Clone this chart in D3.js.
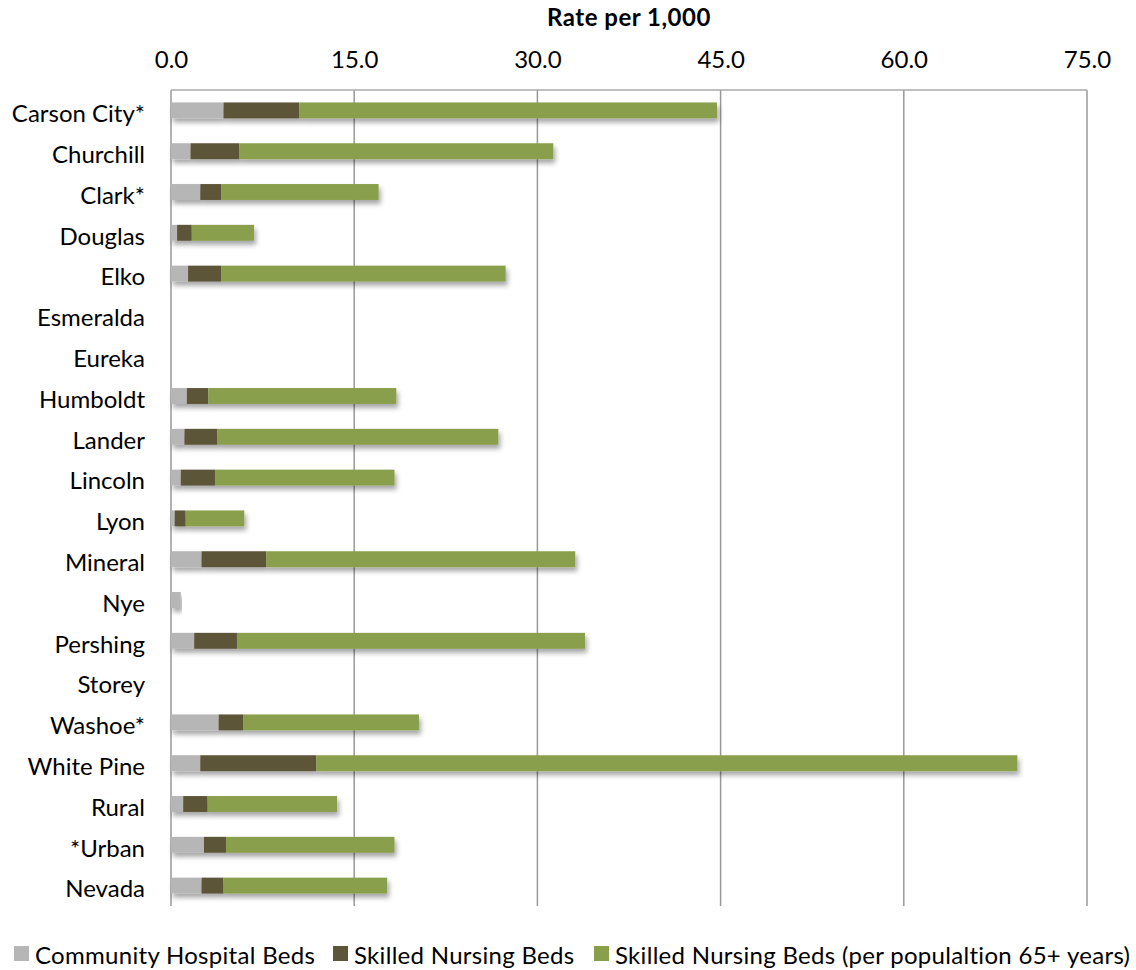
<!DOCTYPE html>
<html>
<head>
<meta charset="utf-8">
<script src="https://cdn.jsdelivr.net/npm/d3@7"></script>
<style>
  html, body { margin: 0; padding: 0; background: #fff; }
  svg { display: block; font-family: Lato, "Open Sans", sans-serif; }
</style>
</head>
<body>
<svg id="chart" width="1136" height="970"></svg>
<script>
const categories = ["Carson City*", "Churchill", "Clark*", "Douglas", "Elko", "Esmeralda", "Eureka",
  "Humboldt", "Lander", "Lincoln", "Lyon", "Mineral", "Nye", "Pershing", "Storey", "Washoe*",
  "White Pine", "Rural", "*Urban", "Nevada"];
const communityHospitalBeds = [4.3, 1.6, 2.4, 0.5, 1.4, 0, 0, 1.3, 1.1, 0.8, 0.3, 2.5, 0.8, 1.9, 0, 3.9, 2.4, 1.0, 2.7, 2.5];
const skilledNursingBeds =    [6.2, 4.0, 1.7, 1.2, 2.7, 0, 0, 1.75, 2.7, 2.8, 0.9, 5.3, 0, 3.5, 0, 2.0, 9.5, 2.0, 1.8, 1.8];
const skilledNursing65 =      [34.2, 25.7, 12.9, 5.1, 23.3, 0, 0, 15.4, 23.0, 14.7, 4.8, 25.3, 0, 28.5, 0, 14.4, 57.4, 10.6, 13.8, 13.4];
const seriesNames = ["Community Hospital Beds", "Skilled Nursing Beds", "Skilled Nursing Beds (per populaltion 65+ years)"];
const xTicks = [0, 15, 30, 45, 60, 75];
const axisTitle = "Rate per 1,000";

const colors = ["#b6b6b6", "#5c5539", "#8a9f4c"];

const svg = d3.select("#chart");
const mLeft = 171, mRight = 1087, mTop = 90, mBottom = 906;
const fs = 24;

const x = d3.scaleLinear().domain([0, 75]).range([mLeft, mRight]);
const y = d3.scaleBand().domain(categories).range([mTop, mBottom]).paddingInner(0.61).paddingOuter(0.305);

const defs = svg.append("defs");
const f = defs.append("filter").attr("id", "shadow").attr("x", "-5%").attr("y", "-50%").attr("width", "115%").attr("height", "250%");
f.append("feDropShadow").attr("dx", 2).attr("dy", 4).attr("stdDeviation", 2.5).attr("flood-color", "#000").attr("flood-opacity", 0.35);

// gridlines
svg.append("g").selectAll("line").data(xTicks).join("line")
  .attr("x1", d => x(d)).attr("x2", d => x(d))
  .attr("y1", mTop).attr("y2", mBottom)
  .attr("stroke", "#999").attr("stroke-width", 1.5);
svg.append("line").attr("x1", mLeft).attr("x2", mRight).attr("y1", mTop).attr("y2", mTop)
  .attr("stroke", "#aaa").attr("stroke-width", 1.5);

// stacked data
const rows = categories.map((c, i) => ({ cat: c, s0: communityHospitalBeds[i], s1: skilledNursingBeds[i], s2: skilledNursing65[i] }));
const stack = d3.stack().keys(["s0", "s1", "s2"])(rows);

const barsG = svg.append("g");
categories.forEach((c, i) => {
  const g = barsG.append("g").attr("filter", "url(#shadow)");
  stack.forEach((layer, k) => {
    const d = layer[i];
    if (d[1] - d[0] <= 0) return;
    g.append("rect")
      .attr("x", x(d[0])).attr("y", y(c))
      .attr("width", x(d[1]) - x(d[0])).attr("height", y.bandwidth())
      .attr("fill", colors[k]);
  });
});

// x axis (top)
const xAxis = d3.axisTop(x).tickValues(xTicks).tickFormat(d3.format(".1f")).tickSize(0).tickPadding(0);
const xg = svg.append("g").attr("transform", `translate(0,${mTop - 22})`).call(xAxis);
xg.select(".domain").remove();
xg.selectAll("text").attr("font-size", fs).attr("fill", "#000").attr("font-family", "Lato, sans-serif");

svg.append("text").attr("x", (mLeft + mRight) / 2).attr("y", 26).attr("text-anchor", "middle")
  .attr("font-size", 24).attr("font-weight", "bold").attr("letter-spacing", 0.5).text(axisTitle);

// y axis
const yAxis = d3.axisLeft(y).tickSize(0).tickPadding(26);
const yg = svg.append("g").attr("transform", `translate(${mLeft},0)`).call(yAxis);
yg.select(".domain").remove();
yg.selectAll("text").attr("font-size", fs).attr("dy", "0.49em").attr("fill", "#000").attr("font-family", "Lato, sans-serif");

// legend
const legendX = [14, 333, 594];
const lg = svg.append("g");
seriesNames.forEach((n, i) => {
  lg.append("rect").attr("x", legendX[i]).attr("y", 946).attr("width", 15).attr("height", 15).attr("fill", colors[i]);
  lg.append("text").attr("x", legendX[i] + 21).attr("y", 964).attr("font-size", fs).attr("letter-spacing", 0.3).text(n);
});
</script>
</body>
</html>
